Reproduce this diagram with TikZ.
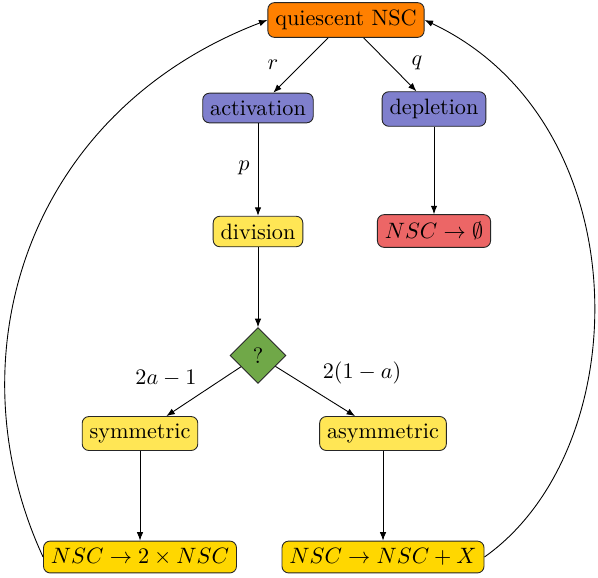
\documentclass[tikz,border=0pt]{standalone}
\usetikzlibrary{shapes.geometric,arrows.meta}
\definecolor{cOrange}{RGB}{255,128,0}
\definecolor{cBlue}{RGB}{127,127,205}
\definecolor{cRed}{RGB}{236,102,102}
\definecolor{cYellow}{RGB}{255,230,85}
\definecolor{cGold}{RGB}{255,215,0}
\definecolor{cGreen}{RGB}{112,168,72}
\begin{document}
\begin{tikzpicture}[x=0.45pt,y=-0.45pt,
  box/.style={draw=black!85, rounded corners=3pt, text=black},
  arr/.style={-{Latex[length=3.8pt,width=2.9pt]}, black},
  lbl/.style={text=black}]
\useasboundingbox (0,0) rectangle (598,577);
\node[box, fill=cOrange] (qui) at (346,20) {quiescent NSC};
\node[box, fill=cBlue] (act) at (258,108) {activation};
\node[box, fill=cBlue] (dep) at (434,109) {depletion};
\node[box, fill=cYellow] (div) at (258,231.5) {division};
\node[box, fill=cRed] (emp) at (434,231) {$NSC \rightarrow \emptyset$};
\node[draw=black!85, diamond, aspect=1, fill=cGreen] (dia) at (258,355.5) {?};
\node[box, fill=cYellow] (sym) at (140,433.5) {symmetric};
\node[box, fill=cYellow] (asym) at (383,433.5) {asymmetric};
\node[box, fill=cGold] (nsc2) at (140,557) {$NSC \rightarrow 2\times NSC$};
\node[box, fill=cGold] (nscx) at (383,557) {$NSC \rightarrow NSC+X$};
\node[lbl] (lr) at (273,65) {$r$};
\node[lbl] (lq) at (417,63) {$q$};
\node[lbl] (lp) at (244,168) {$p$};
\node[lbl] (la) at (166,378) {$2a-1$};
\node[lbl] (lb) at (362,373) {$2(1-a)$};
\draw[arr] (qui) -- (act);
\draw[arr] (qui) -- (dep);
\draw[arr] (act) -- (div);
\draw[arr] (dep) -- (emp);
\draw[arr] (div) -- (dia);
\draw[arr] (dia) -- (sym);
\draw[arr] (dia) -- (asym);
\draw[arr] (sym) -- (nsc2);
\draw[arr] (asym) -- (nscx);
\draw[arr] (nsc2.west) .. controls (-49,358) and (25,113) .. (qui.west);
\draw[arr] (nscx.east) .. controls (638.6,448) and (640.4,121.5) .. (qui.east);
\end{tikzpicture}
\end{document}
